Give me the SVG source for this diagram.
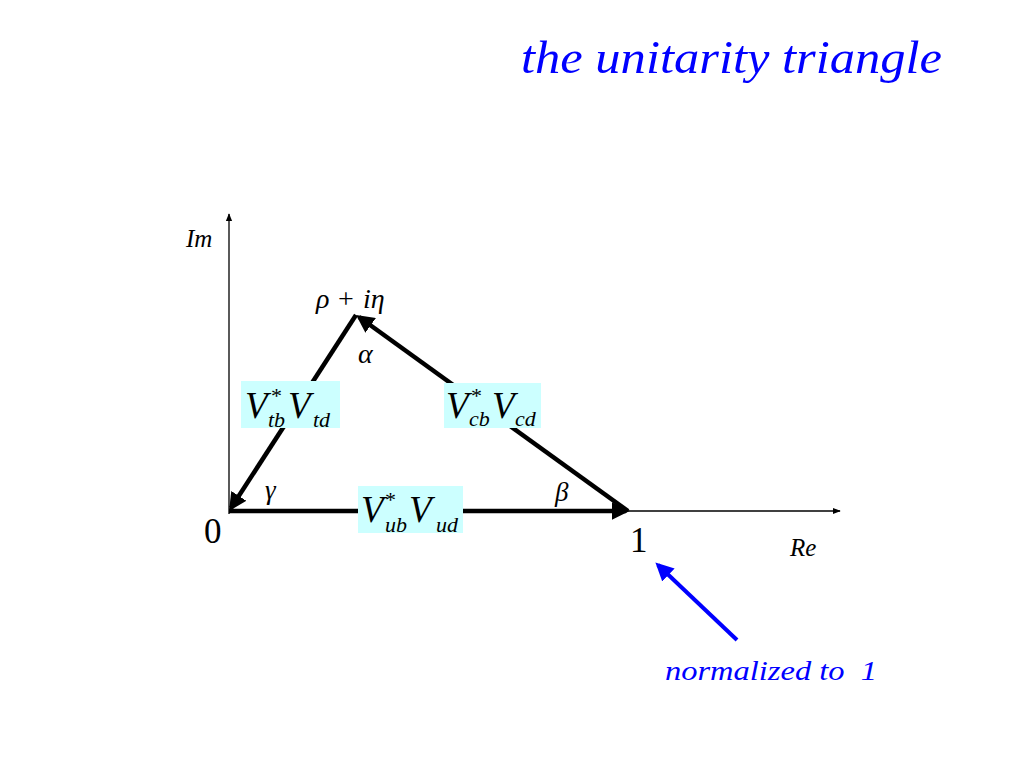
<svg xmlns="http://www.w3.org/2000/svg" width="1024" height="768" viewBox="0 0 1024 768">
<style>
.t{font-family:"Liberation Serif",serif;font-style:italic;fill:#000}
.n{font-family:"Liberation Serif",serif;fill:#000}
.b{fill:#ccffff}
.v{font-size:37px}
.s{font-size:22px}
.ax{stroke:#000;stroke-width:1.3;fill:none}
.tk{stroke:#000;stroke-width:4.5;fill:none}
</style>
<defs>
<marker id="ah" viewBox="0 0 10 10" refX="9" refY="5" markerWidth="8" markerHeight="8" markerUnits="userSpaceOnUse" orient="auto"><path d="M0,1 L10,5 L0,9 Z" fill="#000"/></marker>
<marker id="at" viewBox="0 0 10 10" refX="8" refY="5" markerWidth="4" markerHeight="4" orient="auto"><path d="M0,0 L10,5 L0,10 Z" fill="#000"/></marker>
<marker id="ab" viewBox="0 0 10 10" refX="8" refY="5" markerWidth="4.5" markerHeight="4.5" orient="auto"><path d="M0,0 L10,5 L0,10 Z" fill="#0000ff"/></marker>
</defs>
<rect width="1024" height="768" fill="#fff"/>
<text x="521" y="73" font-family="Liberation Serif, serif" font-style="italic" font-size="46" fill="#0000ff" textLength="421" lengthAdjust="spacingAndGlyphs">the unitarity triangle</text>
<g id="axes">
<line class="ax" x1="229" y1="514" x2="229" y2="214" marker-end="url(#ah)"/>
<line class="ax" x1="229" y1="511" x2="840" y2="511" marker-end="url(#ah)"/>
<text class="t" x="186" y="247" font-size="25">Im</text>
<text class="t" x="790" y="556" font-size="25">Re</text>
<text class="n" x="204" y="543" font-size="35">0</text>
<text class="n" x="630" y="552" font-size="35">1</text>
</g>
<g id="connectors">
<line class="tk" x1="229" y1="511" x2="626" y2="511" marker-end="url(#at)"/>
<line class="tk" x1="628" y1="511" x2="359" y2="317" marker-end="url(#at)"/>
<line class="tk" x1="356" y1="315" x2="231" y2="508" marker-end="url(#at)"/>
<line x1="737" y1="640" x2="658" y2="565" stroke="#0000ff" stroke-width="4" marker-end="url(#ab)"/>
</g>
<g id="apex">
<text class="t" x="316" y="308" font-size="28">ρ</text>
<text class="n" x="338" y="308" font-size="28">+</text>
<text class="t" x="363" y="308" font-size="28">iη</text>
</g>
<g id="angles">
<text class="t" x="358" y="363" font-size="28">α</text>
<text class="t" x="265" y="499" font-size="27">γ</text>
<text class="t" x="555" y="501" font-size="27">β</text>
</g>
<g id="node-tb">
<rect class="b" x="241" y="381" width="99" height="47"/>
<text class="t v" x="245" y="418">V</text>
<text class="n s" x="271" y="403">*</text>
<text class="t s" x="268" y="427">tb</text>
<text class="t v" x="288" y="418">V</text>
<text class="t s" x="313" y="427">td</text>
</g>
<g id="node-cb">
<rect class="b" x="444" y="383" width="97" height="45"/>
<text class="t v" x="446" y="418">V</text>
<text class="n s" x="471" y="403">*</text>
<text class="t s" x="469" y="426">cb</text>
<text class="t v" x="492" y="418">V</text>
<text class="t s" x="515" y="426">cd</text>
</g>
<g id="node-ub">
<rect class="b" x="358" y="486" width="105" height="47"/>
<text class="t v" x="361" y="522">V</text>
<text class="n s" x="385" y="507">*</text>
<text class="t s" x="385" y="532">ub</text>
<text class="t v" x="409" y="522">V</text>
<text class="t s" x="436" y="532">ud</text>
</g>
<g id="note">
<text x="665" y="680" font-family="Liberation Serif, serif" font-style="italic" font-size="28" fill="#0000ff" xml:space="preserve" textLength="212" lengthAdjust="spacingAndGlyphs">normalized to  1</text>
</g>
</svg>
